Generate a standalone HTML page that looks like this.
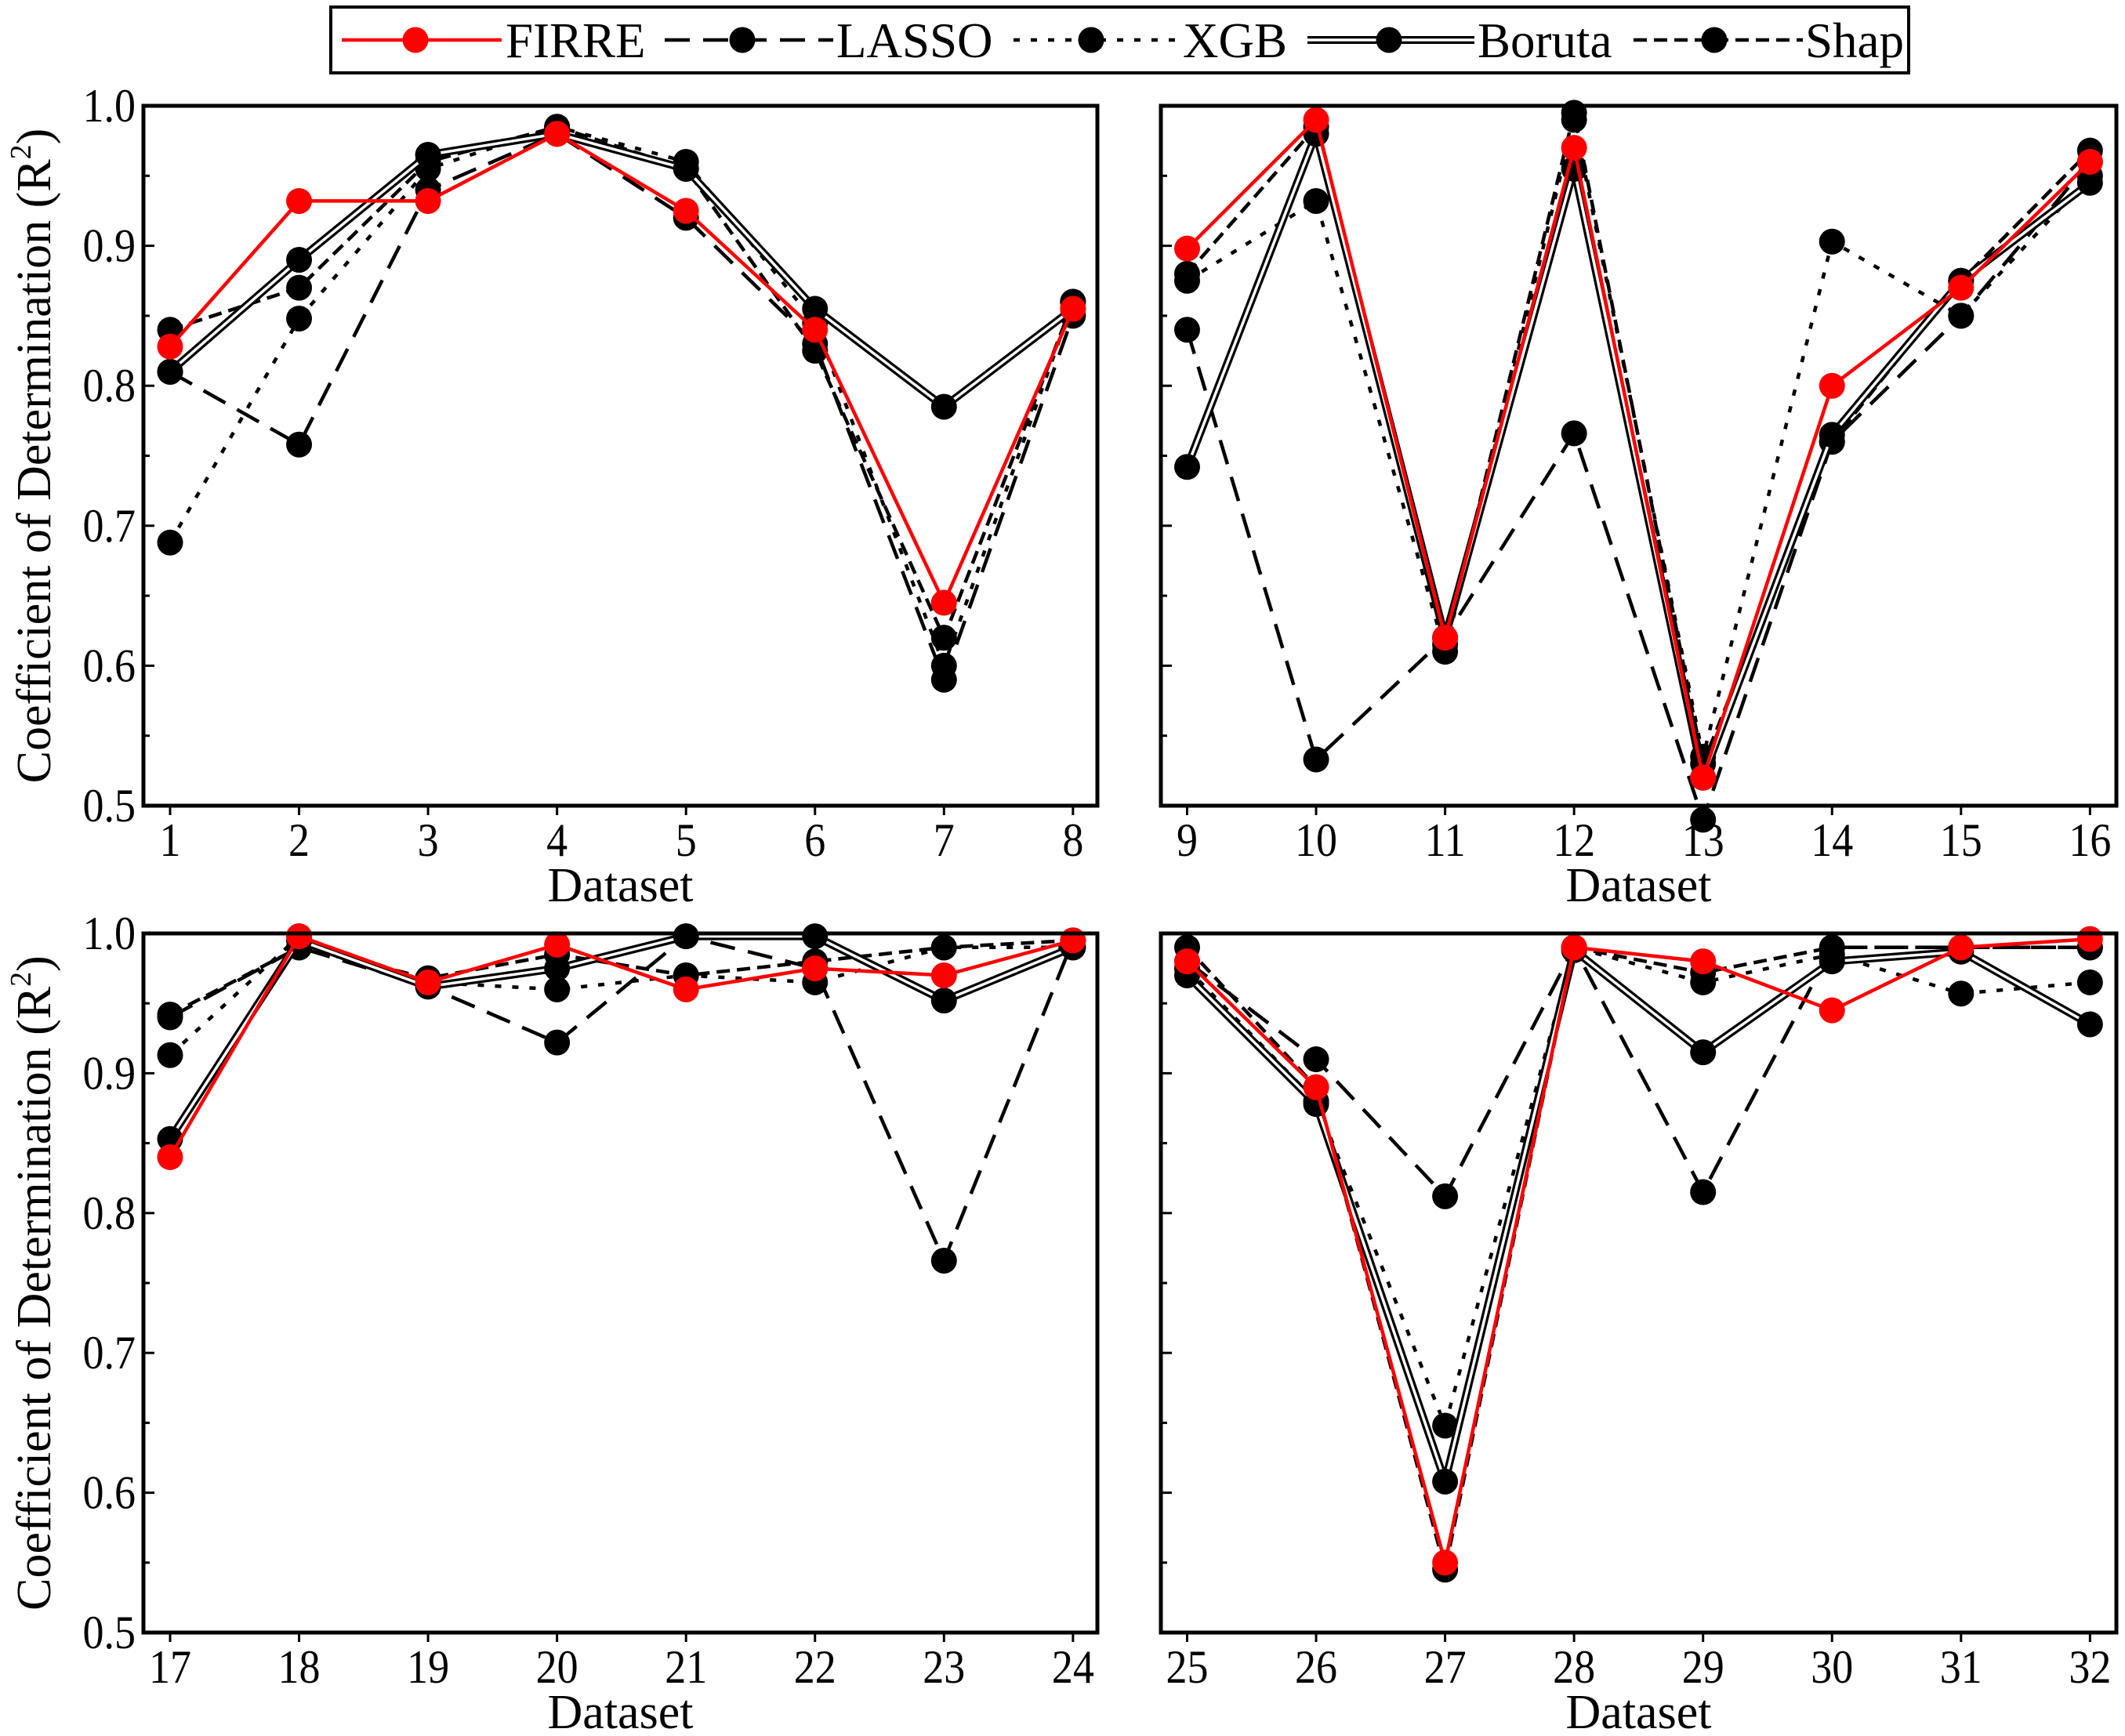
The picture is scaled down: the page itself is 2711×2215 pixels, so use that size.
<!DOCTYPE html>
<html><head><meta charset="utf-8"><style>
html,body{margin:0;padding:0;background:#fff;}
svg{display:block;font-family:"Liberation Serif",serif;}
</style></head><body>
<svg id="chart" width="2711" height="2215" viewBox="0 0 2711 2215" xmlns="http://www.w3.org/2000/svg"></svg>
<script>
const seriesNames = ["FIRRE","LASSO","XGB","Boruta","Shap"];
const p1FIRRE  = [0.828,0.932,0.932,0.980,0.925,0.840,0.645,0.855];
const p1LASSO  = [0.810,0.758,0.940,0.980,0.920,0.830,0.590,0.850];
const p1XGB    = [0.688,0.848,0.955,0.985,0.960,0.845,0.600,0.860];
const p1Boruta = [0.810,0.890,0.965,0.980,0.955,0.855,0.785,0.855];
const p1Shap   = [0.840,0.870,0.960,0.985,0.955,0.825,0.620,0.860];
const p2FIRRE  = [0.898,0.990,0.620,0.970,0.520,0.800,0.870,0.960];
const p2LASSO  = [0.840,0.533,0.620,0.766,0.490,0.760,0.850,0.960];
const p2XGB    = [0.875,0.932,0.610,0.990,0.535,0.903,0.850,0.950];
const p2Boruta = [0.742,0.980,0.620,0.955,0.520,0.765,0.875,0.945];
const p2Shap   = [0.880,0.985,0.615,0.995,0.530,0.760,0.875,0.968];
const p3FIRRE  = [0.840,0.998,0.965,0.992,0.960,0.975,0.970,0.995];
const p3LASSO  = [0.940,0.990,0.962,0.922,0.998,0.975,0.766,0.995];
const p3XGB    = [0.913,0.998,0.965,0.960,0.970,0.965,0.990,0.990];
const p3Boruta = [0.853,0.995,0.962,0.975,0.998,0.998,0.952,0.990];
const p3Shap   = [0.942,0.990,0.968,0.985,0.970,0.980,0.990,0.995];
const p4FIRRE  = [0.980,0.890,0.550,0.990,0.980,0.945,0.990,0.996];
const p4LASSO  = [0.980,0.910,0.812,0.990,0.815,0.990,0.990,0.990];
const p4XGB    = [0.975,0.880,0.648,0.990,0.965,0.985,0.957,0.965];
const p4Boruta = [0.970,0.878,0.608,0.988,0.915,0.980,0.987,0.935];
const p4Shap   = [0.990,0.890,0.545,0.990,0.972,0.990,0.990,0.990];
const yTicks = [0.5,0.6,0.7,0.8,0.9,1.0];
const yTickLabels = ["0.5","0.6","0.7","0.8","0.9","1.0"];

const NS="http://www.w3.org/2000/svg";
const svg=document.getElementById('chart');
function mk(tag,attrs,parent){const e=document.createElementNS(NS,tag);for(const k in attrs)e.setAttribute(k,attrs[k]);(parent||svg).appendChild(e);return e;}

const panels=[
 {x0:183,x1:1400,y0:135,y1:1028,c0:217,start:1,data:[p1FIRRE,p1LASSO,p1XGB,p1Boruta,p1Shap],ylab:true},
 {x0:1481,x1:2700,y0:135,y1:1028,c0:1514.5,start:9,data:[p2FIRRE,p2LASSO,p2XGB,p2Boruta,p2Shap],ylab:false},
 {x0:183,x1:1400,y0:1191,y1:2083,c0:217,start:17,data:[p3FIRRE,p3LASSO,p3XGB,p3Boruta,p3Shap],ylab:true},
 {x0:1481,x1:2700,y0:1191,y1:2083,c0:1514.5,start:25,data:[p4FIRRE,p4LASSO,p4XGB,p4Boruta,p4Shap],ylab:false}
];
const step=164.55;
const dashes=[null,"32,17","8,14","","17,9"];

function drawSeries(g,pts,si){
  const d=pts.map((p,i)=>(i?'L':'M')+p[0].toFixed(1)+','+p[1].toFixed(1)).join(' ');
  if(si===3){
    mk('path',{d:d,fill:'none',stroke:'#000','stroke-width':10,'stroke-linejoin':'round'},g);
    mk('path',{d:d,fill:'none',stroke:'#fff','stroke-width':3.5,'stroke-linejoin':'round'},g);
  } else {
    const a={d:d,fill:'none',stroke:si===0?'#f00':'#000','stroke-width':4.5};
    if(dashes[si])a['stroke-dasharray']=dashes[si];
    mk('path',a,g);
  }
}

panels.forEach((P,pi)=>{
  const g=mk('g',{});
  
  
  const ys=v=>P.y1-(v-0.5)/0.5*(P.y1-P.y0);
  const xs=i=>P.c0+i*step;
  for(let v=0.5;v<=1.0001;v+=0.05){
    const y=ys(v);const major=Math.abs(v*10-Math.round(v*10))<0.01;
    mk('line',{x1:P.x0,x2:P.x0+(major?14:8),y1:y,y2:y,stroke:'#000','stroke-width':3},g);
  }
  if(P.ylab){
    yTicks.forEach((v,i)=>{
      const t=mk('text',{x:0,y:0,transform:`translate(${P.x0-10},${ys(v)+20}) scale(0.9,1)`,'text-anchor':'end','font-size':60},g);
      t.textContent=yTickLabels[i];
      
      
    });
    const cy=(P.y0+P.y1)/2;
    const yt=mk('text',{x:0,y:0,transform:`translate(64,${cy}) rotate(-90)`,'text-anchor':'middle','font-size':62},g);
    yt.innerHTML='Coefficient of Determination (R<tspan dy="-25" font-size="38">2</tspan><tspan dy="25">)</tspan>';
    
    
  }
  for(let i=0;i<8;i++){
    mk('line',{x1:xs(i),x2:xs(i),y1:P.y1,y2:P.y1+12,stroke:'#000','stroke-width':3},g);
    const t=mk('text',{x:0,y:0,transform:`translate(${xs(i)},${P.y1+64}) scale(0.9,1)`,'text-anchor':'middle','font-size':60},g);
    t.textContent=String(P.start+i);
    
    
  }
  const xt=mk('text',{x:(P.x0+P.x1)/2,y:P.y1+122,'text-anchor':'middle','font-size':62},g);
  xt.textContent='Dataset';
  
  
  [1,2,4,3,0].forEach(si=>{
    const sg=mk('g',{},g);
    
    
    const pts=P.data[si].map((v,i)=>[xs(i),ys(v)]);
    drawSeries(sg,pts,si);
    pts.forEach(p=>{
      const c=mk('circle',{cx:p[0],cy:p[1],r:16.5,fill:si===0?'#f00':'#000'},sg);
      
      
    });
  });
  const fr=mk('rect',{x:P.x0,y:P.y0,width:P.x1-P.x0,height:P.y1-P.y0,fill:'none',stroke:'#000','stroke-width':5},g);
  
  
});

const lg=mk('g',{});


mk('rect',{x:422,y:9,width:2013,height:84,fill:'#fff',stroke:'#000','stroke-width':4},lg);
const legItems=[[436,640,530,645],[848,1063,947,1067],[1293,1504,1392,1509],[1668,1881,1772,1885],[2084,2300,2187,2303]];
legItems.forEach((L,si)=>{
  const eg=mk('g',{},lg);
  
  
  drawSeries(eg,[[L[0],51],[L[1],51]],si);
  mk('circle',{cx:L[2],cy:51,r:16.5,fill:si===0?'#f00':'#000'},eg);
  const t=mk('text',{x:L[3],y:73,'font-size':63},eg);
  t.textContent=seriesNames[si];
});
</script>
</body></html>
